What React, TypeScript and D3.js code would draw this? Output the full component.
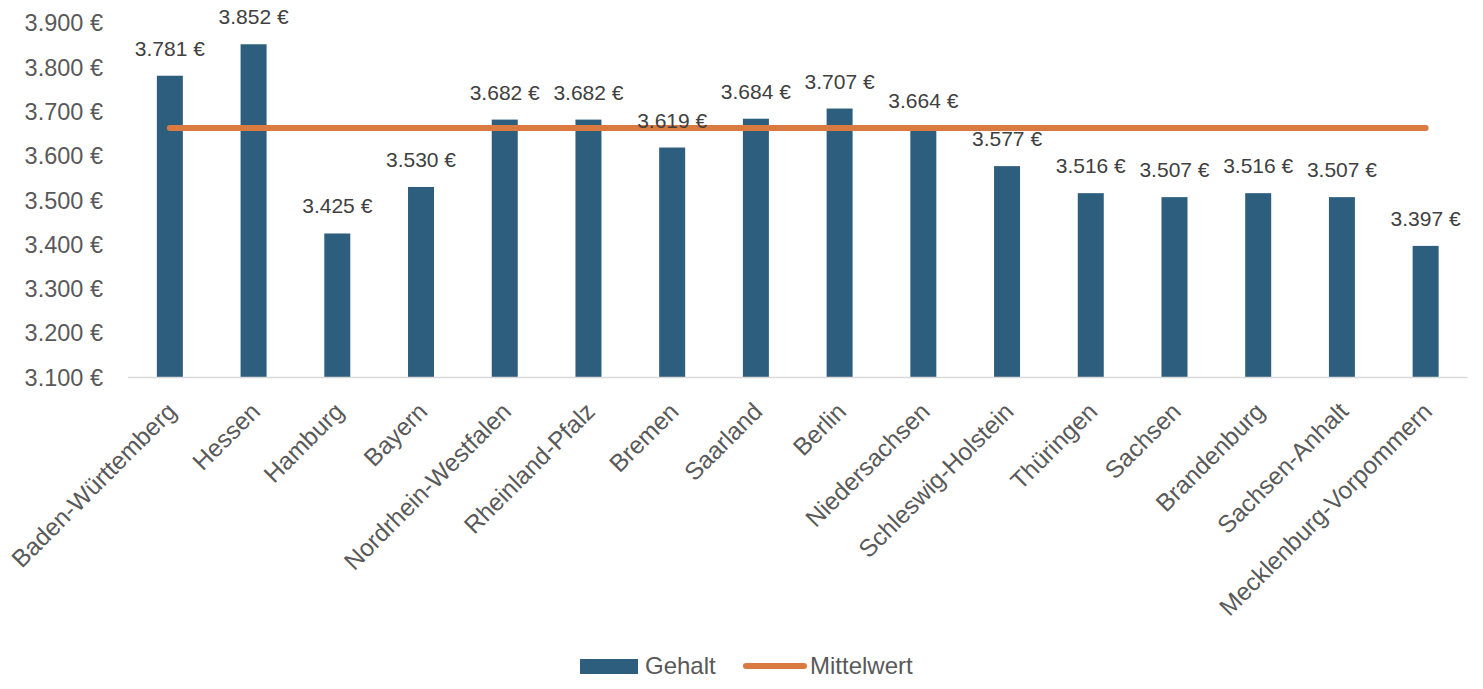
import React from "react";
import * as d3 from "d3";

const categories = [
  "Baden-Württemberg", "Hessen", "Hamburg", "Bayern", "Nordrhein-Westfalen",
  "Rheinland-Pfalz", "Bremen", "Saarland", "Berlin", "Niedersachsen",
  "Schleswig-Holstein", "Thüringen", "Sachsen", "Brandenburg", "Sachsen-Anhalt",
  "Mecklenburg-Vorpommern",
];
const gehalt = [3781, 3852, 3425, 3530, 3682, 3682, 3619, 3684, 3707, 3664, 3577, 3516, 3507, 3516, 3507, 3397];
const mittelwert = [3663, 3663, 3663, 3663, 3663, 3663, 3663, 3663, 3663, 3663, 3663, 3663, 3663, 3663, 3663, 3663];
const yTicks = [3100, 3200, 3300, 3400, 3500, 3600, 3700, 3800, 3900];
const seriesNames = ["Gehalt", "Mittelwert"];

const W = 1483, H = 689;
const FONT = "'Liberation Sans', Arial, sans-serif";
const fmt = (v: number) => d3.format(",")(v).replace(/,/g, ".") + " €";

export default function App() {
  const x = d3.scaleBand<string>().domain(categories).range([128, 1467.5]).paddingInner(0.69).paddingOuter(0.345);
  const y = d3.scaleLinear().domain([3100, 3900]).range([377.5, 23]);
  const bw = 26;
  const cx = (c: string) => (x(c) as number) + x.bandwidth() / 2;
  const line = d3.line<number>().x((_, i) => cx(categories[i])).y((d) => y(d));

  return (
    <svg width={W} height={H} style={{ position: "absolute", left: 0, top: 0, background: "#fff" }}>
      {yTicks.map((t) => (
        <text key={t} x={103} y={y(t) + 8.3} textAnchor="end" fontFamily={FONT} fontSize={23.5} fill="#595959">
          {fmt(t)}
        </text>
      ))}
      {categories.map((c, i) => (
        <rect key={c} x={cx(c) - bw / 2} y={y(gehalt[i])} width={bw} height={y(3100) - y(gehalt[i])} fill="#2E5E7E" />
      ))}
      <line x1={128} x2={1467.5} y1={y(3100)} y2={y(3100)} stroke="#D9D9D9" strokeWidth={1.5} />
      <path d={line(mittelwert) || ""} fill="none" stroke="#D97A40" strokeWidth={6} strokeLinecap="round" />
      {categories.map((c, i) => (
        <text key={"l" + c} x={cx(c)} y={y(gehalt[i]) - 20} textAnchor="middle" fontFamily={FONT} fontSize={21} fill="#404040">
          {fmt(gehalt[i])}
        </text>
      ))}
      {categories.map((c) => (
        <text key={"c" + c} transform={`translate(${cx(c) + 8},${413}) rotate(-45)`} textAnchor="end" fontFamily={FONT} fontSize={24.5} fill="#595959">
          {c}
        </text>
      ))}
      <rect x={580} y={659} width={58} height={15} fill="#2E5E7E" />
      <text x={645} y={673.5} fontFamily={FONT} fontSize={24} fill="#595959">{seriesNames[0]}</text>
      <line x1={746} x2={804} y1={666} y2={666} stroke="#D97A40" strokeWidth={6} strokeLinecap="round" />
      <text x={810} y={673.5} fontFamily={FONT} fontSize={24} fill="#595959">{seriesNames[1]}</text>
    </svg>
  );
}
